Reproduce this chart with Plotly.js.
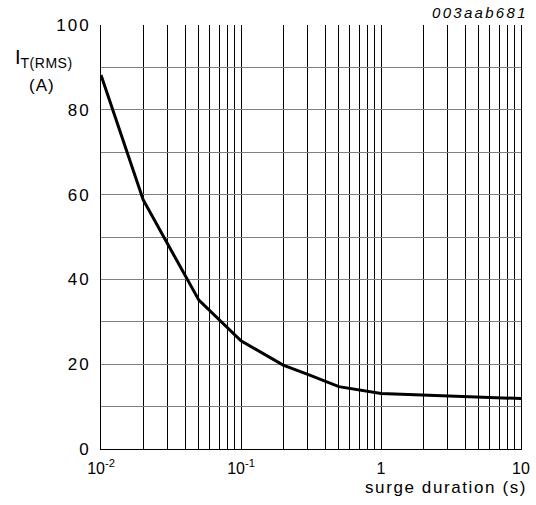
<!DOCTYPE html>
<html>
<head>
<meta charset="utf-8">
<script src="https://cdn.plot.ly/plotly-3.0.1.min.js"></script>
<style>html,body{margin:0;padding:0;background:#fff;}#chart{width:536px;height:505px;}</style>
</head>
<body>
<div id="chart"></div>
<script>
// data
var duration = [0.01, 0.02, 0.03, 0.05, 0.1, 0.2, 0.3, 0.5, 1, 2, 5, 10];
var current  = [88.2, 58.8, 48.3, 35.1, 25.5, 19.8, 17.6, 14.7, 13.1, 12.7, 12.3, 11.9];
var yTickValues = [0, 20, 40, 60, 80, 100];
var xDecades = [0.01, 0.1, 1, 10];
var xDecadeLabels = ['10<sup>-2</sup>', '10<sup>-1</sup>', '1', '10'];

function spaced(t, px) { return '<span style="letter-spacing:' + px + 'px">' + t + '</span>'; }

// grid ticks: every digit of each decade on x, every 10 on y
var xtv = [], xtt = [];
for (var d = 0; d < xDecades.length; d++) {
  var maxK = (d === xDecades.length - 1) ? 1 : 9;
  for (var k = 1; k <= maxK; k++) {
    xtv.push(xDecades[d] * k);
    xtt.push(k === 1 ? xDecadeLabels[d] : '');
  }
}
var ytv = [], ytt = [];
for (var v = 0; v <= 100; v += 10) {
  ytv.push(v);
  ytt.push(yTickValues.indexOf(v) >= 0 ? spaced(String(v), 2) : '');
}

var font = 'Arial, "Liberation Sans", sans-serif';
var trace = {
  x: duration, y: current, type: 'scatter', mode: 'lines',
  line: {color: '#000', width: 3}, hoverinfo: 'none'
};
var layout = {
  width: 536, height: 505,
  margin: {l: 101, r: 15, t: 25, b: 56},
  paper_bgcolor: '#fff', plot_bgcolor: '#fff',
  showlegend: false,
  font: {family: font, color: '#000', size: 16},
  xaxis: {
    type: 'log', range: [-2, 1],
    tickmode: 'array', tickvals: xtv, ticktext: xtt,
    showgrid: true, gridcolor: '#000', gridwidth: 1,
    showline: true, linecolor: '#000', linewidth: 1, mirror: false,
    ticks: '', zeroline: false,
    ticklabelstandoff: 5,
    tickfont: {family: font, size: 16, color: '#000'}
  },
  yaxis: {
    range: [0, 100],
    tickmode: 'array', tickvals: ytv, ticktext: ytt,
    showgrid: true, gridcolor: '#808080', gridwidth: 1,
    showline: true, linecolor: '#000', linewidth: 1, mirror: true,
    ticks: '', zeroline: false,
    ticklabelstandoff: 6,
    tickfont: {family: font, size: 17, color: '#000'}
  },
  annotations: [
    {text: 'I<sub>' + spaced('T(RMS)', 0.5) + '</sub>', xref: 'paper', yref: 'paper', x: -0.135, y: 0.922,
     xanchor: 'center', yanchor: 'middle', showarrow: false, font: {family: font, size: 20, color: '#000'}},
    {text: spaced('(A)', 1), xref: 'paper', yref: 'paper', x: -0.14, y: 0.858,
     xanchor: 'center', yanchor: 'middle', showarrow: false, font: {family: font, size: 17, color: '#000'}},
    {text: '<i>' + spaced('003aab681', 2.3) + '</i>', xref: 'paper', yref: 'paper', x: 1.0, xshift: 9, y: 1.0, yshift: 2,
     xanchor: 'right', yanchor: 'bottom', showarrow: false, font: {family: font, size: 15, color: '#000'}},
    {text: spaced('surge duration (s)', 1.6), xref: 'paper', yref: 'paper', x: 1.0, xshift: 8, y: 0, yshift: -27,
     xanchor: 'right', yanchor: 'top', showarrow: false, font: {family: font, size: 17, color: '#000'}}
  ]
};
Plotly.newPlot('chart', [trace], layout, {staticPlot: true, displayModeBar: false});
</script>
</body>
</html>
